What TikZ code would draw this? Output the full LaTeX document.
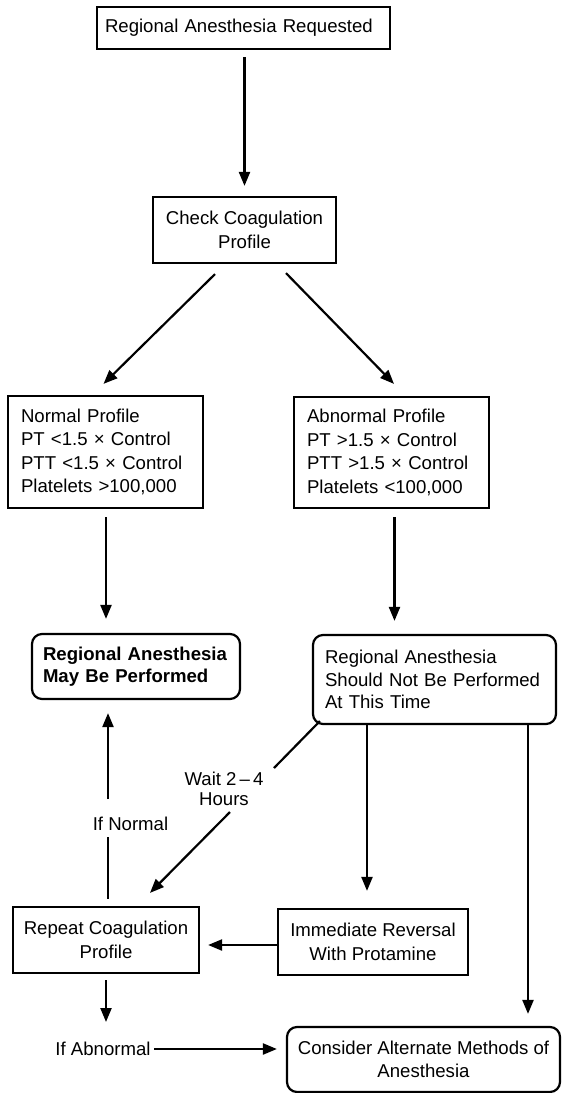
\documentclass[tikz,border=0pt]{standalone}
\usepackage{fontspec}
\setmainfont{Liberation Sans}
\usetikzlibrary{calc,arrows.meta}
\begin{document}
\begin{tikzpicture}[x=1pt,y=-1pt,
  every node/.style={font=\fontsize{18.6pt}{23.6pt}\selectfont},
  box/.style={draw, line width=2.2pt, inner sep=0pt, align=center},
  lbox/.style={box, align=left},
  rbox/.style={rounded corners=10pt},
  conn/.style={line width=2.2pt, -{Triangle[length=14pt,width=11pt]}},
  seg/.style={line width=2.2pt},
  lab/.style={inner sep=0pt, align=center}]
\fill[white] (0,0) rectangle (562,1093);
\useasboundingbox (0,0) rectangle (562,1093);

% boxes
\node[lbox, minimum width=293pt, minimum height=42pt, text width=277pt] (top) at (243.5,28) {Regional Anesthesia Requested};
\node[box, minimum width=183pt, minimum height=66pt] (check) at (244.5,230) {Check Coagulation\\Profile};
\node[lbox, minimum width=195pt, minimum height=112pt, text width=169pt] (normal) at (105.5,452) {Normal Profile\\PT <1.5 × Control\\PTT <1.5 × Control\\Platelets >100,000};
\node[lbox, minimum width=195pt, minimum height=111pt, text width=169pt] (abn) at (391.5,452.5) {Abnormal Profile\\PT >1.5 × Control\\PTT >1.5 × Control\\Platelets <100,000};
\node[lbox, rbox, minimum width=208pt, minimum height=65pt, text width=186pt, font=\fontsize{18.6pt}{22.5pt}\selectfont\bfseries] (may) at (136,666.5) {Regional Anesthesia\\May Be Performed};
\node[lbox, rbox, minimum width=243pt, minimum height=89pt, text width=219pt, font=\fontsize{18.6pt}{22.8pt}\selectfont] (snb) at (434.5,679.5) {Regional Anesthesia\\Should Not Be Performed\\At This Time};
\node[box, minimum width=186pt, minimum height=66pt] (rep) at (106,940) {Repeat Coagulation\\Profile};
\node[box, minimum width=190pt, minimum height=66pt] (imm) at (373,942) {Immediate Reversal\\With Protamine};
\node[box, rbox, minimum width=273pt, minimum height=65pt, font=\fontsize{18.6pt}{23pt}\selectfont] (cons) at (423.5,1059.5) {Consider Alternate Methods of\\Anesthesia};

% labels
\node[lab] (ifn) at (130.5,824) {If Normal};
\node[lab, font=\fontsize{18.6pt}{20pt}\selectfont] (wait) at (224,789) {Wait 2\,–\,4\\Hours};
\node[lab] (ifa) at (103,1049) {If Abnormal};

% connectors
\draw[conn] ($(top.south -| check.north)+(0,7)$) -- ($(check.north)+(0,-10)$);
\draw[conn] ($(check.south)+(-29.5,10)$) -- ($(normal.north)+(-2,-11)$);
\draw[conn] ($(check.south)+(41.5,9)$) -- ($(abn.north)+(2.5,-12)$);
\draw[conn] ($(normal.south)+(0.5,8)$) -- ($(normal.south |- may.north)+(0.5,-14)$);
\draw[conn] ($(abn.south)+(3,8)$) -- ($(abn.south |- snb.north)+(3,-13)$);
\draw[conn] ($(snb.south -| imm.north)+(-6,0)$) -- ($(imm.north)+(-6,-17)$);
\draw[conn] ($(snb.south)+(93.5,0)$) -- ($(cons.north)+(104.5,-12)$);
\draw[conn] ($(imm.west)+(0,3)$) -- ($(rep.east)+(8,5)$);
% repeat -> may, broken by "If Normal"
\draw[seg] ($(rep.north)+(2,-7)$) -- ($(ifn.center)+(-22.5,13)$);
\draw[conn] ($(ifn.center)+(-22.5,-25)$) -- ($(rep.north |- may.south)+(2,13)$);
% should not -> repeat, broken by "Wait 2-4 Hours"
\draw[seg] ($(snb.south west)+(8,-4)$) -- ($(wait.center)+(50,-21)$);
\draw[conn] ($(wait.center)+(6,23)$) -- ($(rep.north)+(44,-13)$);
% repeat -> if abnormal -> consider
\draw[conn] ($(rep.south)+(0,6)$) -- ($(rep.south |- ifa.center)+(0,-27)$);
\draw[conn] ($(ifa.center)+(51,0)$) -- ($(cons.west |- ifa.center)+(-9,0)$);
\end{tikzpicture}
\end{document}
